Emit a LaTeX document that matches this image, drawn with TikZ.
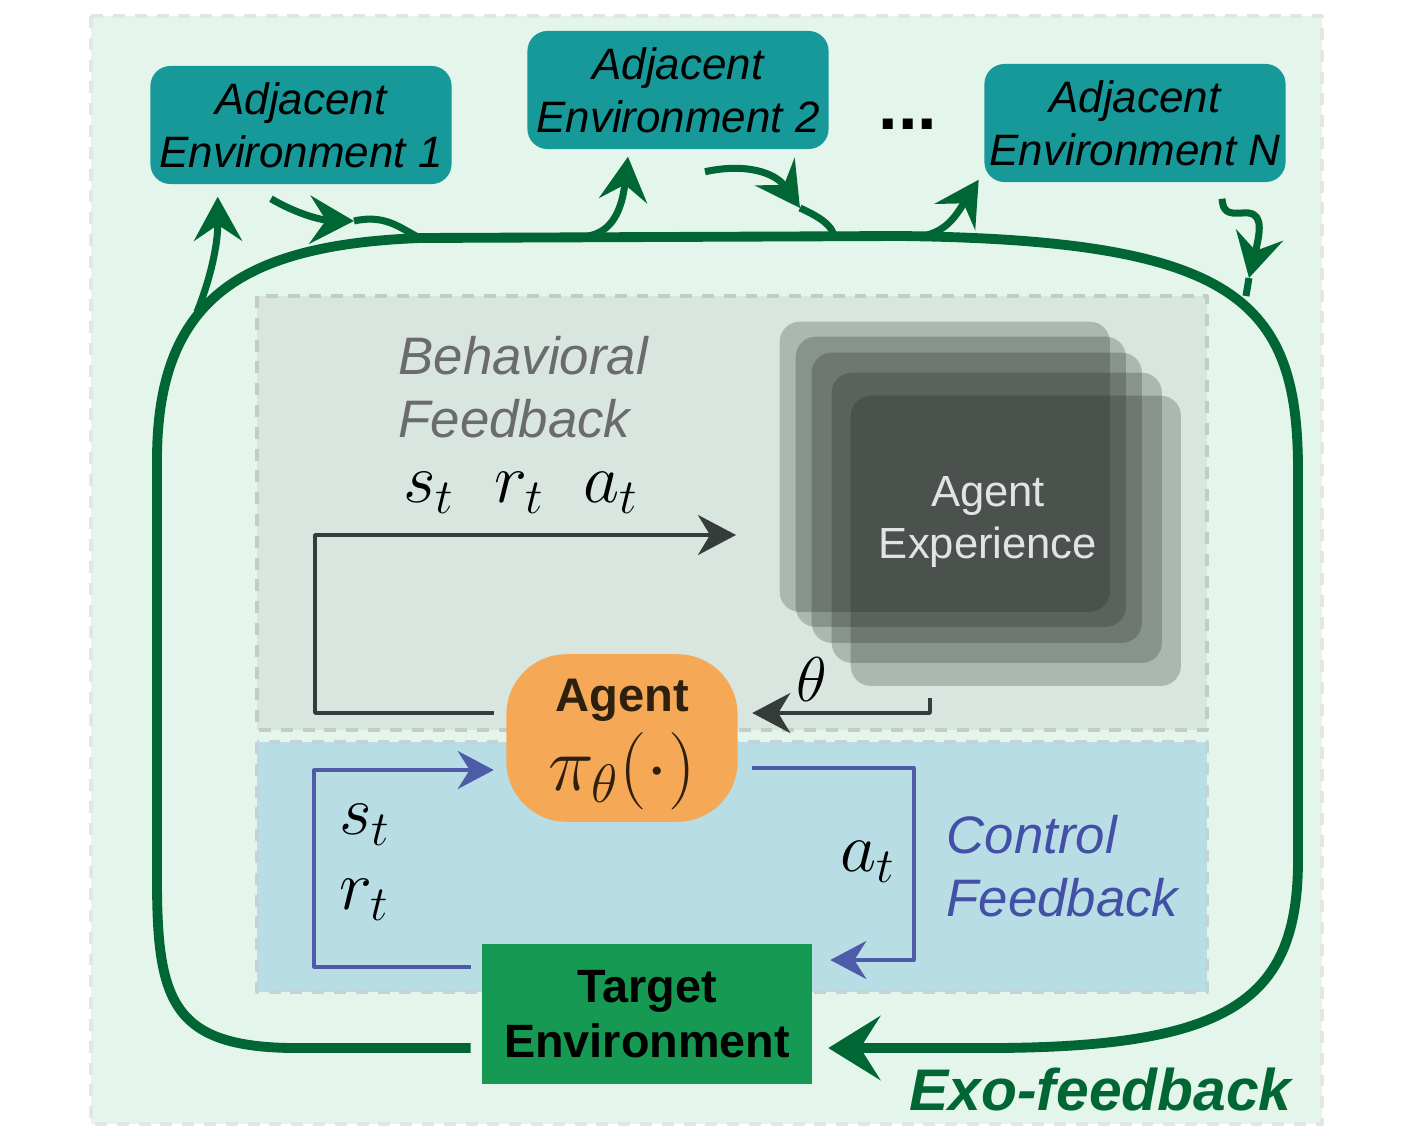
\RequirePackage{fix-cm}
\documentclass[tikz,border=0pt]{standalone}
\usepackage[no-math]{fontspec}
\setmainfont{Liberation Sans}
\usetikzlibrary{arrows.meta,calc}
\definecolor{bgmint}{HTML}{E4F5EC}
\definecolor{bgedge}{HTML}{E4E6E5}
\definecolor{behavfill}{HTML}{D8E6DF}
\definecolor{behavedge}{HTML}{C3CDC8}
\definecolor{ctrlfill}{HTML}{B8DDE4}
\definecolor{ctrledge}{HTML}{C4D2DA}
\definecolor{envteal}{HTML}{17999A}
\definecolor{agentorange}{HTML}{F5A957}
\definecolor{agentbrown}{HTML}{2E1F0E}
\definecolor{targetgreen}{HTML}{169A53}
\definecolor{exogreen}{HTML}{006633}
\definecolor{behavline}{HTML}{353C39}
\definecolor{ctrlblue}{HTML}{4D5BA8}
\definecolor{ctrltext}{HTML}{4350A8}
\definecolor{behavtext}{HTML}{6B6B6B}
\definecolor{expgray}{HTML}{191E1C}
\definecolor{exptext}{HTML}{E3E3E3}
\begin{document}
\begin{tikzpicture}[line join=round,x=0.01cm,y=-0.01cm,
	envbox/.style={fill=envteal,rounded corners=0.2cm,minimum width=3.01cm,minimum height=1.18cm,align=center,inner sep=0pt,font=\fontsize{12.5}{15}\selectfont\itshape},
	expbox/.style={fill=expgray,fill opacity=0.23,rounded corners=0.2cm,minimum width=3.3cm,minimum height=2.9cm,anchor=north west},
	exo/.style={draw=exogreen,line width=2.8pt,-{Stealth[length=0.52cm,width=0.64cm,inset=0.2cm]}},
	branchline/.style={draw=exogreen,line width=2pt},
	branch/.style={branchline,-{Stealth[length=0.44cm,width=0.48cm,inset=0.16cm]}},
	behav/.style={draw=behavline,line width=1pt,-{Stealth[length=0.38cm,width=0.4cm,inset=0.12cm]}},
	ctrl/.style={draw=ctrlblue,line width=0.9pt,-{Stealth[length=0.36cm,width=0.38cm,inset=0.12cm]}},
	sym/.style={font=\fontsize{20}{24}\selectfont,inner sep=0pt},
	zone/.style={line width=0.9pt,dash pattern=on 3.4pt off 2.8pt}]
	\useasboundingbox (0,0) rectangle (1414,1136);
	\draw[zone,draw=bgedge,fill=bgmint] (91,16) rectangle (1322,1124);
	\draw[zone,draw=behavedge,fill=behavfill] (257,296) rectangle (1207,730);
	\draw[zone,draw=ctrledge,fill=ctrlfill] (257,742) rectangle (1207,992);
	\foreach \n/\px/\py in {1/779/321,2/795/336,3/811/352,4/831/372,5/850/395}
		\node[expbox] (exp\n) at (\px,\py) {};
	\node[text=exptext,font=\fontsize{12.4}{14.8}\selectfont,align=center] (exptxt) at (988,522) {Agent\\Experience};
	\node[envbox] (env1) at (301,125) {Adjacent\\Environment 1};
	\node[envbox] (env2) at (678,90) {Adjacent\\Environment 2};
	\node[envbox] (envN) at (1135,123) {Adjacent\\Environment N};
	\node[font=\fontsize{20}{24}\selectfont\bfseries] (dots) at (908,124) {...};
	\node[fill=agentorange,rounded corners=0.6cm,minimum width=2.31cm,minimum height=1.63cm,align=center,text=agentbrown,font=\fontsize{13.4}{22.5}\selectfont\bfseries] (agent) at (622,738) {\rule{0pt}{13pt}Agent\\{\fontsize{22}{22.5}\selectfont$\pi_\theta(\cdot)$}};
	\node[fill=targetgreen,minimum width=3.29cm,minimum height=1.4cm,align=center,font=\fontsize{13.3}{15.6}\selectfont\bfseries] (tgt) at (647,1014) {Target\\Environment};
	\node[text=behavtext,font=\fontsize{15}{18}\selectfont\itshape,align=left,anchor=west,inner sep=0pt] (behavlbl) at (398,387) {Behavioral\\Feedback};
	\node[text=ctrltext,font=\fontsize{15}{18}\selectfont\itshape,align=left,anchor=west,inner sep=0pt] (ctrllbl) at (946,866) {Control\\Feedback};
	\node[text=exogreen,font=\fontsize{16.7}{20}\selectfont\bfseries\itshape,anchor=west,inner sep=0pt] (exolbl) at (909,1090) {Exo-feedback};
	\node[sym] (sra) at (521,493) {$s_t\;\;r_t\;\;a_t$};
	\node[sym,font=\fontsize{18}{22}\selectfont] (theta) at (812,680) {$\theta$};
	\node[sym] (at) at (868,862) {$a_t$};
	\node[sym] (st) at (365,825) {$s_t$};
	\node[sym] (rt) at (365,900) {$r_t$};
	\coordinate (bcorner) at (315,713);
	\coordinate (bend) at (736,535);
	\coordinate (thstart) at (930,698);
	\coordinate (ccorner) at (314,967);
	\coordinate (acorner) at (914,960);
	\draw[behav] ($(agent.west)+(-12,-25)$) -- (bcorner) |- (bend);
	\draw[behav] (thstart) |- ($(agent.east)+(14,-25)$);
	\draw[ctrl] ($(tgt.west)+(-11,-47)$) -- (ccorner) |- ($(agent.west)+(-12,32)$);
	\draw[ctrl] ($(agent.east)+(14,30)$) -| (acorner) -- ($(tgt.east)+(18,-54)$);
	\draw[exo] ($(tgt.west)+(-11,34)$) -- (290,1048) .. controls (172,1046) and (157,1000) .. (157,880) -- (157,460) .. controls (157,300) and (240,245) .. (420,238) -- (900,236) .. controls (1236,240) and (1298,300) .. (1298,470) -- (1298,860) .. controls (1298,1000) and (1230,1046) .. (1000,1048) -- ($(tgt.east)+(16,34)$);
	\coordinate (j1) at (197,312);
	\coordinate (m2) at (354,221);
	\coordinate (j2) at (418,237);
	\coordinate (j3) at (588,236);
	\coordinate (m4) at (800,208);
	\coordinate (j4) at (834,236);
	\coordinate (j5) at (922,236);
	\coordinate (m6) at (1249,278);
	\coordinate (j6) at (1246,296);
	\draw[branch] (j1) .. controls (210,280) and (218,245) .. ($(env1.south west)+(68,12)$);
	\draw[branch] ($(env1.south)+(-30,14)$) .. controls (295,213) and (320,220) .. (m2);
	\draw[branchline] (m2) .. controls (385,214) and (400,228) .. (j2);
	\draw[branch] (j3) .. controls (612,232) and (622,210) .. ($(env2.south)+(-50,7)$);
	\draw[branch] ($(env2.south)+(27,22)$) .. controls (745,163) and (775,172) .. (m4);
	\draw[branchline] (m4) .. controls (822,218) and (832,226) .. (j4);
	\draw[branch] (j5) .. controls (948,232) and (958,212) .. ($(envN.south west)+(-5,-3)$);
	\draw[branch] ($(envN.south)+(87,16)$) .. controls (1223,212) and (1228,214) .. (1242,213) .. controls (1262,211) and (1262,225) .. (m6);
	\draw[branchline] (m6) -- (j6);
\end{tikzpicture}
\end{document}
